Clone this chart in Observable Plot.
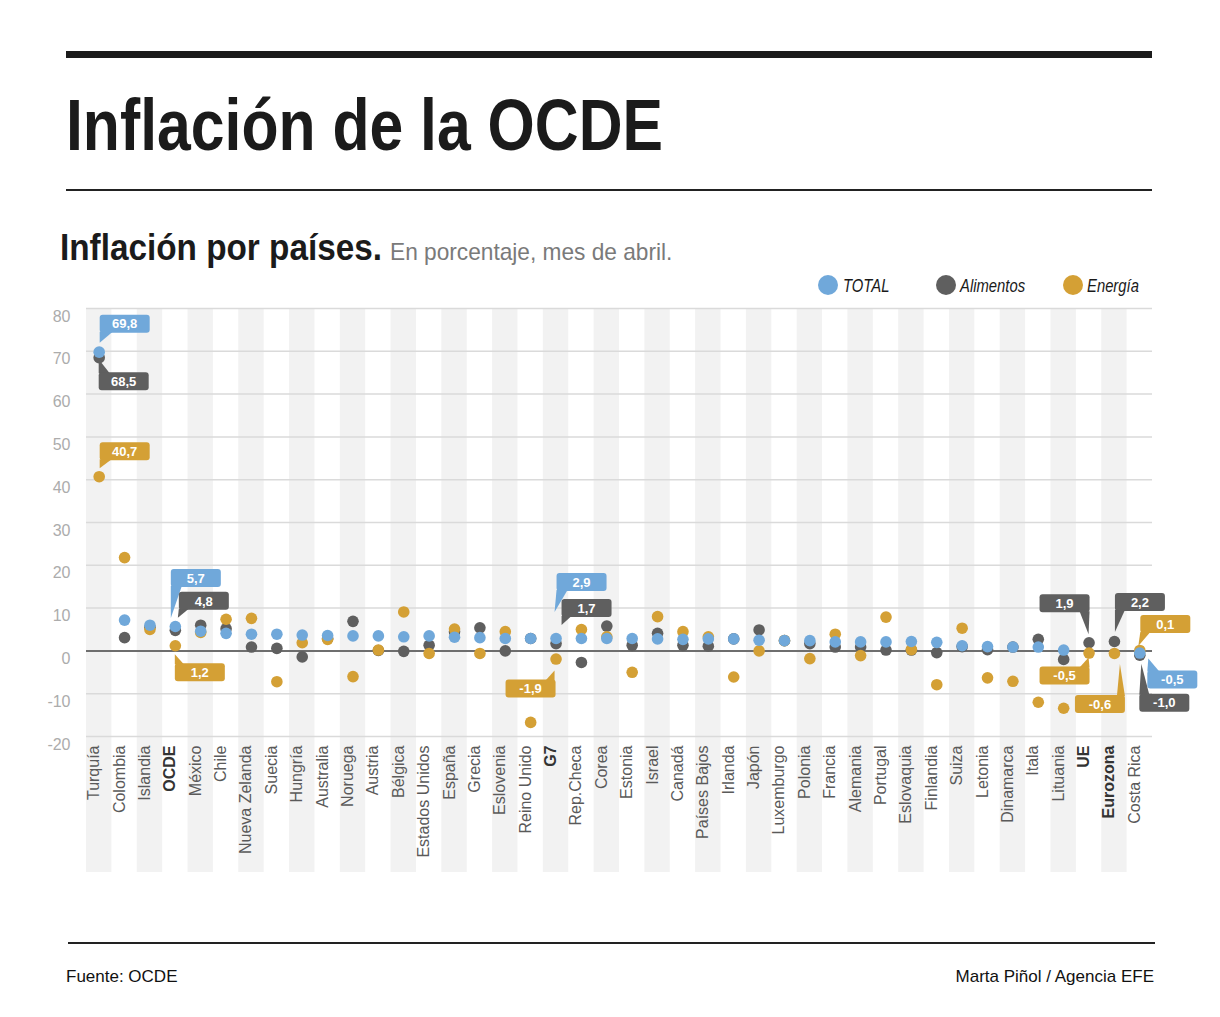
<!DOCTYPE html>
<html>
<head>
<meta charset="utf-8">
<script src="https://cdn.jsdelivr.net/npm/d3@7"></script>
<script src="https://cdn.jsdelivr.net/npm/@observablehq/plot@0.6"></script>
<style>
  body { margin: 0; background: #fff; font-family: "Liberation Sans", Arial, sans-serif; }
  #page { position: relative; width: 1220px; height: 1017px; overflow: hidden; background: #fff; }
  .abs { position: absolute; white-space: nowrap; }
  .sx { transform-origin: 0 0; }
  .dotk { position: absolute; width: 20px; height: 20px; border-radius: 50%; }
  .legt { position: absolute; font: italic 19px/19px "Liberation Sans", Arial, sans-serif; color: #1a1a1a; transform: scaleX(0.78); transform-origin: 0 0; white-space: nowrap; }
</style>
</head>
<body>
<div id="page">
  <div class="abs" style="left:66px;top:51px;width:1086px;height:7px;background:#1b1b1b"></div>
  <div class="abs sx" style="left:66px;top:89px;font:bold 72px/72px 'Liberation Sans',Arial,sans-serif;color:#1b1b1b;transform:scaleX(0.843)">Inflación de la OCDE</div>
  <div class="abs" style="left:66px;top:189px;width:1086px;height:2px;background:#222"></div>
  <div class="abs sx" style="left:60px;top:229px;font:bold 37px/37px 'Liberation Sans',Arial,sans-serif;color:#1b1b1b;transform:scaleX(0.9)">Inflación por países.</div>
  <div class="abs sx" style="left:390px;top:240px;font:24px/24px 'Liberation Sans',Arial,sans-serif;color:#7a7a7a;transform:scaleX(0.945)">En porcentaje, mes de abril.</div>
  <div id="legend"></div>
  <div id="chart" class="abs" style="left:0;top:300px;"></div>
  <div class="abs" style="left:68px;top:942px;width:1087px;height:2px;background:#222"></div>
  <div class="abs" style="left:66px;top:968px;font:17px/17px 'Liberation Sans',Arial,sans-serif;color:#111">Fuente: OCDE</div>
  <div class="abs" style="right:66px;top:968px;font:17px/17px 'Liberation Sans',Arial,sans-serif;color:#111">Marta Piñol / Agencia EFE</div>
</div>
<script>
// ---------- DATA ----------
const countries = ["Turquía","Colombia","Islandia","OCDE","México","Chile","Nueva Zelanda","Suecia","Hungría","Australia","Noruega","Austria","Bélgica","Estados Unidos","España","Grecia","Eslovenia","Reino Unido","G7","Rep.Checa","Corea","Estonia","Israel","Canadá","Países Bajos","Irlanda","Japón","Luxemburgo","Polonia","Francia","Alemania","Portugal","Eslovaquia","Finlandia","Suiza","Letonia","Dinamarca","Itala","Lituania","UE","Eurozona","Costa Rica"];
const total     = [69.8, 7.2, 6.0, 5.7, 4.6, 4.1, 3.9, 3.9, 3.7, 3.6, 3.5, 3.5, 3.3, 3.5, 3.2, 3.1, 2.9, 2.9, 2.9, 2.9, 2.9, 2.9, 2.8, 2.7, 2.8, 2.8, 2.5, 2.4, 2.4, 2.1, 2.1, 2.1, 2.2, 2.0, 1.2, 1.0, 0.9, 0.9, 0.2, null, null, -0.5];
const alimentos = [68.5, 3.1, 5.5, 4.8, 6.0, 5.2, 0.9, 0.6, -1.4, 2.9, 6.9, 0.1, -0.1, 1.3, 4.5, 5.4, 0.0, 2.9, 1.7, -2.7, 5.8, 1.3, 4.1, 1.3, 1.1, 2.8, 4.9, 2.4, 1.7, 0.9, 0.9, 0.2, 0.2, -0.4, 1.0, 0.3, 0.9, 2.7, -2.0, 1.9, 2.2, -1.0];
const energia   = [40.7, 21.8, 5.0, 1.2, 4.3, 7.4, 7.6, -7.2, 1.9, 2.7, -6.0, 0.2, 9.1, -0.6, 5.1, -0.6, 4.5, -16.7, -1.9, 5.0, 3.3, -5.0, 8.0, 4.5, 3.3, -6.1, 0.0, 2.4, -1.8, 3.9, -1.1, 7.9, 0.3, -7.9, 5.3, -6.3, -7.1, -12.0, -13.4, -0.5, -0.6, 0.1];
const seriesNames = ["TOTAL", "Alimentos", "Energía"];
const yTicks = [-20, -10, 0, 10, 20, 30, 40, 50, 60, 70, 80];
const boldCountries = ["OCDE", "G7", "UE", "Eurozona"];
const calloutCountries = ["Turquía","OCDE","G7","Costa Rica","Turquía","OCDE","G7","UE","Eurozona","Costa Rica","Turquía","OCDE","G7","UE","Eurozona","Costa Rica"];
const calloutSeries    = ["TOTAL","TOTAL","TOTAL","TOTAL","Alimentos","Alimentos","Alimentos","Alimentos","Alimentos","Alimentos","Energía","Energía","Energía","Energía","Energía","Energía"];

// ---------- STYLE / LAYOUT ----------
const seriesColors = ["#70a8da", "#5f5f5f", "#d4a035"];
const calloutLayout = [
  {bx: 1, by: -37, b: [1, 14], t: [1, -9]},     // Turquía TOTAL
  {bx: -4, by: -57, b: [-4, 7], t: [-4, -8]},   // OCDE TOTAL
  {bx: 1, by: -65, b: [1, 12], t: [-1, -26]},   // G7 TOTAL
  {bx: 8, by: 18, b: [8, 20], t: [9, 6]},       // Costa Rica TOTAL
  {bx: 0, by: 15, b: [0, 11], t: [0, 2]},       // Turquía Alimentos
  {bx: 4, by: -38, b: [4, 14], t: [3, -12]},    // OCDE Alimentos
  {bx: 6, by: -44, b: [6, 16], t: [6, -18]},    // G7 Alimentos
  {bx: -49, by: -48, b: [-9, 1], t: [0, -8]},   // UE Alimentos
  {bx: 1, by: -48, b: [1, 11], t: [1, -9]},     // Eurozona Alimentos
  {bx: 0, by: 39, b: [0, 10], t: [2, 9]},       // Costa Rica Alimentos
  {bx: 1, by: -34, b: [1, 13], t: [1, -8]},     // Turquía Energía
  {bx: 0, by: 18, b: [0, 9], t: [0, 9]},        // OCDE Energía
  {bx: -50, by: 21, b: [-10, -1], t: [-1, 12]}, // G7 Energía
  {bx: -49, by: 14, b: [-9, 1], t: [0, 5]},     // UE Energía
  {bx: -39, by: 42, b: [3, 11], t: [6, 11]},    // Eurozona Energía
  {bx: 1, by: -35, b: [1, 11], t: [-1, -4]}     // Costa Rica Energía
];
const BOX_W = 50, BOX_H = 18;

const valuesBySeries = {"TOTAL": total, "Alimentos": alimentos, "Energía": energia};
const colorOf = s => seriesColors[seriesNames.indexOf(s)];

// legend
const legendPos = [{cx: 828, tx: 843}, {cx: 946, tx: 960}, {cx: 1073, tx: 1087}];
const legend = document.getElementById("legend");
seriesNames.forEach((s, i) => {
  const d = document.createElement("div");
  d.className = "dotk";
  d.style.left = (legendPos[i].cx - 10) + "px";
  d.style.top = "275px";
  d.style.background = seriesColors[i];
  legend.appendChild(d);
  const t = document.createElement("div");
  t.className = "legt";
  t.style.left = legendPos[i].tx + "px";
  t.style.top = "276px";
  t.textContent = s;
  legend.appendChild(t);
});

// long-form rows, drawn Alimentos, Energía, TOTAL (TOTAL on top)
const rows = [];
["Alimentos", "Energía", "TOTAL"].forEach(s => {
  valuesBySeries[s].forEach((v, i) => {
    if (v != null) rows.push({country: countries[i], series: s, value: v});
  });
});

function bw(x) { return typeof x.bandwidth === "function" ? x.bandwidth() : 0; }

function stripes(index, scales, values, dimensions) {
  const g = d3.create("svg:g");
  const x = scales.x, y = scales.y;
  const w = bw(x);
  const top = y(yTicks[yTicks.length - 1]);
  countries.forEach((c, i) => {
    if (i % 2) return;
    g.append("rect")
      .attr("x", x(c)).attr("y", top)
      .attr("width", w)
      .attr("height", dimensions.height - 8 - top)
      .attr("fill", "#f2f2f2");
  });
  return g.node();
}

function callouts(index, scales) {
  const g = d3.create("svg:g");
  const w = bw(scales.x);
  calloutCountries.forEach((c, k) => {
    const s = calloutSeries[k];
    const v = valuesBySeries[s][countries.indexOf(c)];
    const L = calloutLayout[k];
    const px = scales.x(c) + w / 2, py = scales.y(v);
    const col = colorOf(s);
    const bx = px + L.bx, by = py + L.by;
    const tipAbove = L.t[1] < L.by;
    const baseY = tipAbove ? by + 1 : by + BOX_H - 1;
    g.append("path")
      .attr("d", `M${px + L.b[0]},${baseY}L${px + L.b[1]},${baseY}L${px + L.t[0]},${py + L.t[1]}Z`)
      .attr("fill", col);
    g.append("rect")
      .attr("x", bx).attr("y", by).attr("width", BOX_W).attr("height", BOX_H)
      .attr("rx", 3).attr("fill", col);
    g.append("text")
      .attr("x", bx + BOX_W / 2).attr("y", by + BOX_H / 2)
      .attr("dy", "0.36em")
      .attr("text-anchor", "middle")
      .attr("fill", "#fff")
      .attr("font-weight", "bold")
      .attr("font-size", 13)
      .text(v.toFixed(1).replace(".", ","));
  });
  return g.node();
}

const chart = Plot.plot({
  width: 1220,
  height: 580,
  marginLeft: 86,
  marginRight: 68,
  marginTop: 8,
  marginBottom: 144,
  style: {fontFamily: "'Liberation Sans', Arial, sans-serif", fontSize: "16px", color: "#b0b0b0", background: "transparent", overflow: "visible"},
  x: {type: "band", domain: countries, padding: 0, round: false, axis: null},
  y: {domain: [yTicks[0], yTicks[yTicks.length - 1]], axis: null},
  color: {domain: seriesNames, range: seriesColors},
  marks: [
    stripes,
    Plot.ruleY(yTicks.filter(t => t !== 0), {stroke: "#dadada", strokeWidth: 1.5}),
    Plot.ruleY([0], {stroke: "#6e6e6e", strokeWidth: 2}),
    Plot.text(yTicks, {y: d => d, text: d => String(d), frameAnchor: "left", textAnchor: "end", dx: -16, dy: 8, fill: "#acacac", fontSize: 16}),
    Plot.dot(rows, {x: "country", y: "value", fill: "series", r: 5.8}),
    Plot.text(countries.filter(c => !boldCountries.includes(c)), {x: d => d, frameAnchor: "bottom", rotate: -90, textAnchor: "end", dy: 9, fill: "#5a5a5a", fontSize: 16}),
    Plot.text(countries.filter(c => boldCountries.includes(c)), {x: d => d, frameAnchor: "bottom", rotate: -90, textAnchor: "end", dy: 9, fill: "#333", fontSize: 16, fontWeight: "bold"}),
    callouts
  ]
});
document.getElementById("chart").appendChild(chart);
</script>
</body>
</html>
